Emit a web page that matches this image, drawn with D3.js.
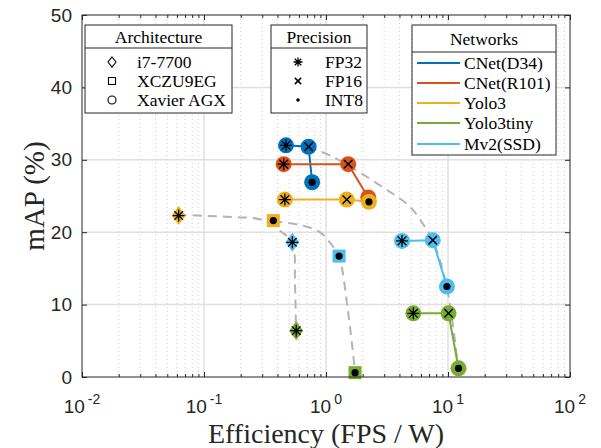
<!DOCTYPE html>
<html>
<head>
<meta charset="utf-8">
<script src="https://cdn.jsdelivr.net/npm/d3@7"></script>
<style>
  body { margin: 0; background: white; }
  svg { display: block; }
</style>
</head>
<body>
<div id="chart"></div>
<script>
// networks, legend order and colours
var networks = ["CNet(D34)", "CNet(R101)", "Yolo3", "Yolo3tiny", "Mv2(SSD)"];
var netColors = ["#0072BD", "#D95319", "#EDB120", "#77AC30", "#4DBEEE"];
var architectures = ["i7-7700", "XCZU9EG", "Xavier AGX"];
var precisions = ["FP32", "FP16", "INT8"];

// [architecture, precision, efficiency (FPS/W), mAP (%)]
var cnetD34 = [
  ["Xavier AGX", "FP32", 0.47, 32.0],
  ["Xavier AGX", "FP16", 0.72, 31.8],
  ["Xavier AGX", "INT8", 0.77, 26.9]
];
var cnetR101 = [
  ["Xavier AGX", "FP32", 0.45, 29.4],
  ["Xavier AGX", "FP16", 1.52, 29.4],
  ["Xavier AGX", "INT8", 2.22, 24.8]
];
var yolo3 = [
  ["Xavier AGX", "FP32", 0.46, 24.5],
  ["Xavier AGX", "FP16", 1.48, 24.5],
  ["Xavier AGX", "INT8", 2.25, 24.2],
  ["i7-7700", "FP32", 0.062, 22.3],
  ["XCZU9EG", "INT8", 0.37, 21.6]
];
var yolo3tiny = [
  ["Xavier AGX", "FP32", 5.2, 8.8],
  ["Xavier AGX", "FP16", 10.1, 8.8],
  ["Xavier AGX", "INT8", 12.2, 1.2],
  ["i7-7700", "FP32", 0.57, 6.4],
  ["XCZU9EG", "INT8", 1.73, 0.6]
];
var mv2ssd = [
  ["Xavier AGX", "FP32", 4.2, 18.8],
  ["Xavier AGX", "FP16", 7.5, 18.9],
  ["Xavier AGX", "INT8", 9.8, 12.5],
  ["i7-7700", "FP32", 0.53, 18.6],
  ["XCZU9EG", "INT8", 1.28, 16.7]
];
var series = [cnetD34, cnetR101, yolo3, yolo3tiny, mv2ssd];

// dashed trade-off curves, one per architecture [efficiency, mAP]
var frontI7 = [[0.061, 22.4], [0.163, 22.1], [0.30, 21.7], [0.435, 20.0], [0.53, 18.5], [0.557, 12.7], [0.567, 6.35]];
var frontZU9 = [[0.37, 21.5], [0.61, 21.0], [0.89, 20.0], [1.12, 18.2], [1.28, 16.6], [1.51, 9.25], [1.73, 0.7]];
var frontXavier = [[0.71, 31.8], [1.14, 30.4], [2.93, 26.2], [4.89, 23.5], [6.48, 20.7], [7.5, 18.9], [9.8, 12.4], [12.1, 1.2]];

var xDecades = [0.01, 0.1, 1, 10, 100];
var xExponents = ["-2", "-1", "0", "1", "2"];
var yTicks = [0, 10, 20, 30, 40, 50];

var W = 601, H = 448;
var margin = { top: 15, right: 31, bottom: 71, left: 82 };
var serif = "'Liberation Serif', 'DejaVu Serif', serif";
var sans = "'Liberation Sans', Arial, sans-serif";
var axisColor = "#262626";

var svg = d3.select("#chart").append("svg")
  .attr("width", W).attr("height", H);

var x = d3.scaleLog().domain([0.01, 100]).range([margin.left, W - margin.right]);
var y = d3.scaleLinear().domain([0, 50]).range([H - margin.bottom, margin.top]);

var pTop = margin.top, pBottom = H - margin.bottom, pLeft = margin.left, pRight = W - margin.right;

// minor x values
var minorX = [];
xDecades.slice(0, -1).forEach(function(d) {
  for (var k = 2; k <= 9; k++) minorX.push(d * k);
});

// grid
var grid = svg.append("g");
grid.selectAll(".minor").data(minorX).enter().append("line")
  .attr("x1", function(d) { return x(d); }).attr("x2", function(d) { return x(d); })
  .attr("y1", pTop).attr("y2", pBottom)
  .attr("stroke", "#cfcfcf").attr("stroke-width", 1)
  .attr("stroke-dasharray", "1,3");
grid.selectAll(".majx").data(xDecades.slice(1, -1)).enter().append("line")
  .attr("x1", function(d) { return x(d); }).attr("x2", function(d) { return x(d); })
  .attr("y1", pTop).attr("y2", pBottom)
  .attr("stroke", "#e0e0e0").attr("stroke-width", 1.5);
grid.selectAll(".majy").data(yTicks.slice(1, -1)).enter().append("line")
  .attr("y1", function(d) { return y(d); }).attr("y2", function(d) { return y(d); })
  .attr("x1", pLeft).attr("x2", pRight)
  .attr("stroke", "#e0e0e0").attr("stroke-width", 1.5);

// dashed curves
var curveLine = d3.line()
  .x(function(d) { return x(d[0]); })
  .y(function(d) { return y(d[1]); })
  .curve(d3.curveCatmullRom.alpha(0.5));

svg.selectAll(".front").data([frontI7, frontZU9, frontXavier]).enter().append("path")
  .attr("d", curveLine)
  .attr("fill", "none")
  .attr("stroke", "#b4b4b4")
  .attr("stroke-width", 2)
  .attr("stroke-dasharray", "9,6");

// marker shapes
function bigShape(arch) {
  if (arch === "Xavier AGX") return "M8,0A8,8 0 1,1 -8,0A8,8 0 1,1 8,0Z";
  if (arch === "XCZU9EG") return "M-6.5,-6.5H6.5V6.5H-6.5Z";
  return "M0,-9.5L7,0L0,9.5L-7,0Z";
}
function smallShape(arch) {
  if (arch === "Xavier AGX") return "M4,0A4,4 0 1,1 -4,0A4,4 0 1,1 4,0Z";
  if (arch === "XCZU9EG") return "M-3.5,-3.5H3.5V3.5H-3.5Z";
  return "M0,-5L4,0L0,5L-4,0Z";
}
function precMark(g, prec, s) {
  if (prec === "FP32") {
    var a = s * 0.72;
    g.append("path")
      .attr("d", "M0," + (-s) + "V" + s + "M" + (-s) + ",0H" + s +
        "M" + (-a) + "," + (-a) + "L" + a + "," + a + "M" + (-a) + "," + a + "L" + a + "," + (-a))
      .attr("stroke", "black").attr("stroke-width", 1.3).attr("fill", "none");
  } else if (prec === "FP16") {
    var b = s * 0.7;
    g.append("path")
      .attr("d", "M" + (-b) + "," + (-b) + "L" + b + "," + b + "M" + (-b) + "," + b + "L" + b + "," + (-b))
      .attr("stroke", "black").attr("stroke-width", 1.5).attr("fill", "none");
  } else {
    g.append("circle").attr("r", s * 0.6).attr("fill", "black");
  }
}

// connectors + markers
var lineGen = d3.line()
  .x(function(d) { return x(d[2]); })
  .y(function(d) { return y(d[3]); });

series.forEach(function(pts, i) {
  var xav = pts.filter(function(d) { return d[0] === "Xavier AGX"; });
  svg.append("path")
    .attr("d", lineGen(xav))
    .attr("fill", "none")
    .attr("stroke", netColors[i])
    .attr("stroke-width", 2);
});

series.forEach(function(pts, i) {
  pts.forEach(function(d) {
    var g = svg.append("g")
      .attr("transform", "translate(" + x(d[2]) + "," + y(d[3]) + ")");
    g.append("path").attr("d", bigShape(d[0])).attr("fill", netColors[i]);
    precMark(g, d[1], 6);
  });
});

// axes (ticks inward on all sides)
function tickStyle(g) {
  g.select(".domain").remove();
  g.selectAll("line").attr("stroke", axisColor);
}
svg.append("g")
  .attr("transform", "translate(0," + pBottom + ")")
  .call(d3.axisBottom(x).tickValues(minorX).tickSize(-3).tickFormat(""))
  .call(tickStyle);
svg.append("g")
  .attr("transform", "translate(0," + pTop + ")")
  .call(d3.axisTop(x).tickValues(minorX).tickSize(-3).tickFormat(""))
  .call(tickStyle);
svg.append("g")
  .attr("transform", "translate(0," + pBottom + ")")
  .call(d3.axisBottom(x).tickValues(xDecades).tickSize(-5).tickFormat(""))
  .call(tickStyle);
svg.append("g")
  .attr("transform", "translate(0," + pTop + ")")
  .call(d3.axisTop(x).tickValues(xDecades).tickSize(-5).tickFormat(""))
  .call(tickStyle);

svg.append("g")
  .attr("transform", "translate(" + pLeft + ",0)")
  .call(d3.axisLeft(y).tickValues(yTicks).tickSize(-5).tickPadding(10))
  .call(function(g) {
    tickStyle(g);
    g.selectAll("text").attr("font-family", sans).attr("font-size", 19).attr("fill", axisColor);
  });
svg.append("g")
  .attr("transform", "translate(" + pRight + ",0)")
  .call(d3.axisRight(y).tickValues(yTicks).tickSize(-5).tickFormat(""))
  .call(tickStyle);

svg.append("rect")
  .attr("x", pLeft).attr("y", pTop)
  .attr("width", pRight - pLeft).attr("height", pBottom - pTop)
  .attr("fill", "none").attr("stroke", axisColor).attr("stroke-width", 1);

// x tick labels 10^n
xDecades.forEach(function(d, i) {
  var t = svg.append("text")
    .attr("x", x(d)).attr("y", pBottom + 36)
    .attr("text-anchor", "middle")
    .attr("font-family", sans).attr("fill", axisColor);
  t.append("tspan").attr("font-size", 19).text("10");
  t.append("tspan").attr("font-size", 14).attr("dx", 3).attr("dy", -9).text(xExponents[i]);
});

// axis titles
svg.append("text")
  .attr("x", (pLeft + pRight) / 2).attr("y", 443)
  .attr("text-anchor", "middle")
  .style("font-family", serif).attr("font-size", 28).attr("fill", axisColor)
  .text("Efficiency (FPS / W)");
svg.append("text")
  .attr("transform", "translate(44," + ((pTop + pBottom) / 2) + ") rotate(-90)")
  .attr("text-anchor", "middle")
  .style("font-family", serif).attr("font-size", 29).attr("fill", axisColor)
  .text("mAP (%)");

// legends
function legendBox(x0, y0, w, h, sep, title) {
  var g = svg.append("g");
  g.append("rect").attr("x", x0).attr("y", y0).attr("width", w).attr("height", h)
    .attr("fill", "white").attr("stroke", axisColor).attr("stroke-width", 1);
  g.append("line").attr("x1", x0).attr("x2", x0 + w).attr("y1", sep).attr("y2", sep)
    .attr("stroke", axisColor).attr("stroke-width", 1);
  g.append("text").attr("x", x0 + w / 2).attr("y", (y0 + sep) / 2 + 6)
    .attr("text-anchor", "middle")
    .style("font-family", serif).attr("font-size", 17.5).attr("fill", "black")
    .text(title);
  return g;
}

var archRows = [62, 81, 100];
var lg1 = legendBox(85, 25, 147, 88, 48, "Architecture");
architectures.forEach(function(a, i) {
  lg1.append("path").attr("d", smallShape(a))
    .attr("transform", "translate(112," + archRows[i] + ")")
    .attr("fill", "none").attr("stroke", "black").attr("stroke-width", 1.1);
  lg1.append("text").attr("x", 137).attr("y", archRows[i] + 6)
    .style("font-family", serif).attr("font-size", 17.5).text(a);
});

var lg2 = legendBox(271, 25, 96, 88, 48, "Precision");
precisions.forEach(function(p, i) {
  var g = lg2.append("g").attr("transform", "translate(298," + archRows[i] + ")");
  precMark(g, p, p === "INT8" ? 3 : 4.5);
  lg2.append("text").attr("x", 325).attr("y", archRows[i] + 6)
    .style("font-family", serif).attr("font-size", 17.5).text(p);
});

var netRows = [63, 83, 103, 123, 144];
var lg3 = legendBox(412, 25, 144, 130, 52, "Networks");
networks.forEach(function(n, i) {
  lg3.append("line").attr("x1", 417).attr("x2", 460)
    .attr("y1", netRows[i]).attr("y2", netRows[i])
    .attr("stroke", netColors[i]).attr("stroke-width", 2);
  lg3.append("text").attr("x", 464).attr("y", netRows[i] + 6)
    .style("font-family", serif).attr("font-size", 17.5).text(n);
});
</script>
</body>
</html>
